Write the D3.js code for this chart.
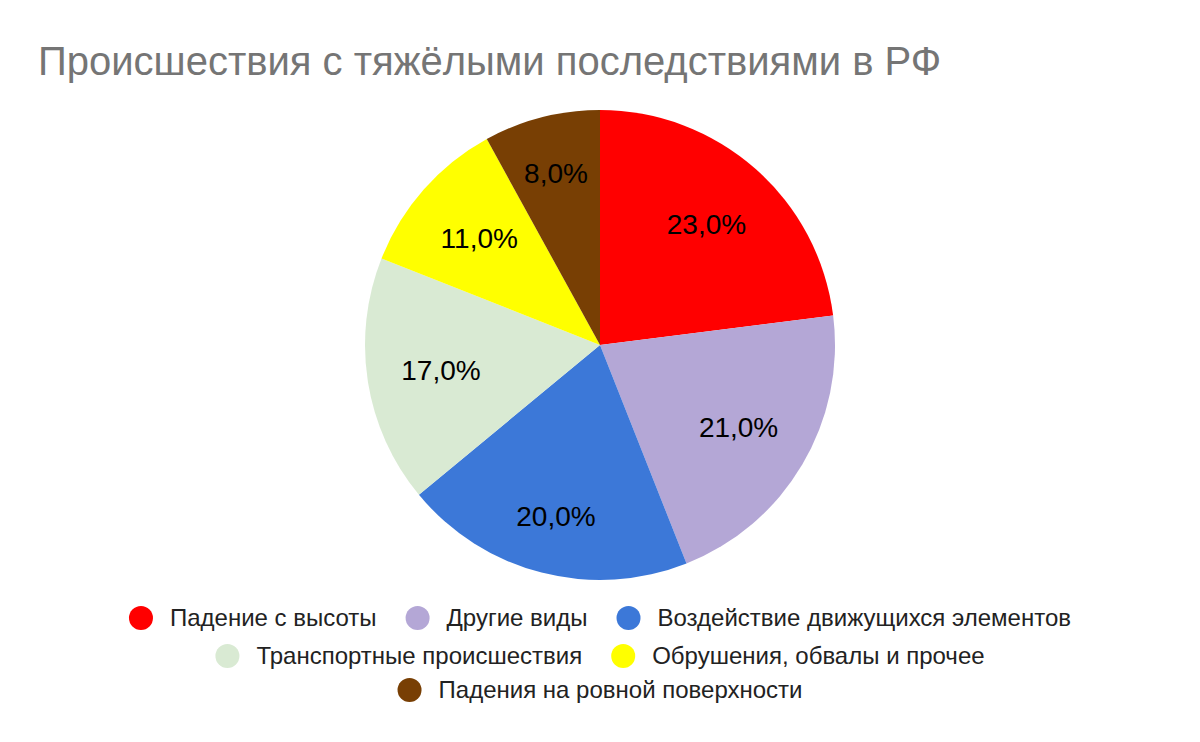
<!DOCTYPE html>
<html><head><meta charset="utf-8">
<script src="https://cdn.jsdelivr.net/npm/d3@7"></script>
<style>body{margin:0;background:#fff}svg{display:block}text{font-family:"Liberation Sans",Arial,sans-serif}</style>
</head><body>
<svg id="c" width="1200" height="742"></svg>
<script>
const title = "Происшествия с тяжёлыми последствиями в РФ";
const categories = ["Падение с высоты","Другие виды","Воздействие движущихся элементов","Транспортные происшествия","Обрушения, обвалы и прочее","Падения на ровной поверхности"];
const values = [23,21,20,17,11,8];
const colors = ["#ff0000","#b4a7d6","#3c78d8","#d9ead3","#ffff00","#783f04"];
const legendRows = [[0,1,2],[3,4],[5]];

const svg = d3.select("#c");
svg.append("rect").attr("width",1200).attr("height",742).attr("fill","#fff");
svg.append("text").attr("x",38).attr("y",75).attr("font-size",40).attr("fill","#757575").text(title);

const cx=600, cy=345, R=235;
const pie = d3.pie().sort(null).value(d=>d)(values);
const arc = d3.arc().innerRadius(0).outerRadius(R);
const total = d3.sum(values);
const g = svg.append("g").attr("transform",`translate(${cx},${cy})`);
g.selectAll("path").data(pie).join("path").attr("d",arc).attr("fill",(d,i)=>colors[i]);
function labelPos(d){
  const a=(d.startAngle+d.endAngle)/2;
  const nearVertical = Math.abs(Math.cos(a))>0.9;
  const r = nearVertical?177:161;
  return [r*Math.sin(a), -r*Math.cos(a)];
}
g.selectAll("text").data(pie).join("text")
  .attr("transform",d=>`translate(${labelPos(d)})`)
  .attr("text-anchor","middle").attr("dy","0.35em").attr("font-size",28).attr("fill","#000")
  .text(d=>(d.value/total*100).toFixed(1).replace(".",",")+"%");

const rowY=[618,656,690];
const lg = svg.append("g");
legendRows.forEach((row,ri)=>{
  const items = row.map(i=>{
    const it = lg.append("g");
    it.append("circle").attr("r",12).attr("cx",12).attr("cy",0).attr("fill",colors[i]);
    const t = it.append("text").attr("x",41).attr("dy","0.35em").attr("font-size",24).attr("fill","#222").text(categories[i]);
    return {it, w:41+t.node().getComputedTextLength()};
  });
  const gap=29;
  const totalW = d3.sum(items,d=>d.w)+gap*(items.length-1);
  let x = 600-totalW/2;
  items.forEach(d=>{d.it.attr("transform",`translate(${x},${rowY[ri]})`); x+=d.w+gap;});
});
</script>
</body></html>
